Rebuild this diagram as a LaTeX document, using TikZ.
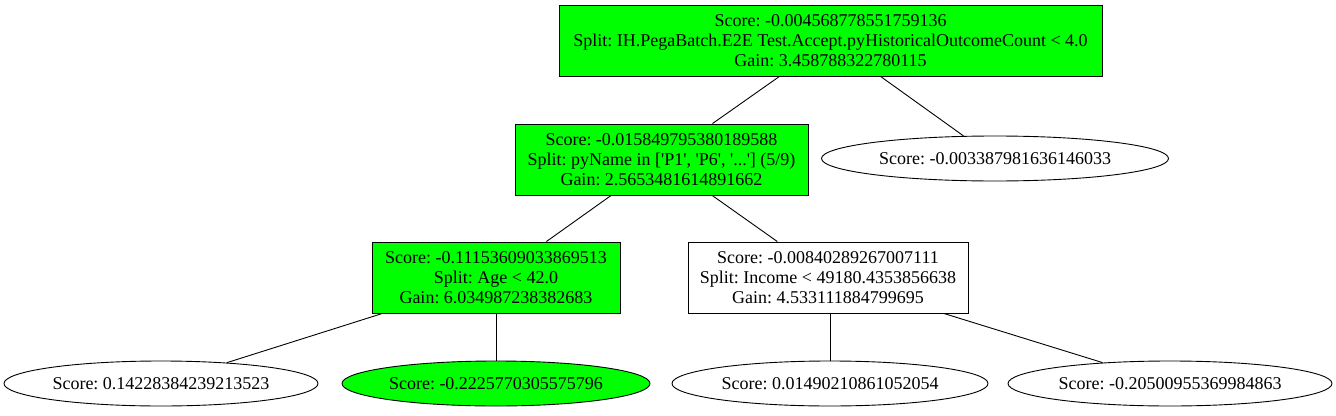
\documentclass[tikz,border=0pt]{standalone}
\usepackage{fontspec}
\setmainfont{Liberation Serif}
\usetikzlibrary{shapes.geometric, positioning}
\definecolor{hit}{HTML}{00FF00}
\tikzset{
  split/.style={rectangle, draw, align=center, inner sep=2pt,
                minimum height=71pt, font=\fontsize{18}{20}\selectfont},
  hot/.style={fill=hit},
  leaf/.style={ellipse, draw, inner sep=0pt, minimum height=45pt,
               font=\fontsize{18}{20}\selectfont},
}
\begin{document}
\frenchspacing
\begin{tikzpicture}[x=1pt, y=-1pt, line width=0.9pt]
  \useasboundingbox (0,0) rectangle (1336,415);
  % split nodes
  \node[split, hot, minimum width=543pt] (root) at (830.5,40.5)
    {Score: -0.004568778551759136\\Split: IH.PegaBatch.E2E Test.Accept.pyHistoricalOutcomeCount < 4.0\\Gain: 3.458788322780115};
  \node[split, hot, minimum width=293pt] (name) at (661.5,159.5)
    {Score: -0.015849795380189588\\Split: pyName in [\textquotesingle P1\textquotesingle, \textquotesingle P6\textquotesingle, \textquotesingle...\textquotesingle] (5/9)\\Gain: 2.5653481614891662};
  \node[split, hot, minimum width=248pt] (age) at (496,277.5)
    {Score: -0.11153609033869513\\Split: Age < 42.0\\Gain: 6.034987238382683};
  \node[split, minimum width=280pt] (income) at (828,277.5)
    {Score: -0.00840289267007111\\Split: Income < 49180.4353856638\\Gain: 4.533111884799695};
  % leaves
  \node[leaf, minimum width=347pt] (l1) at (995,158.5) {Score: -0.003387981636146033};
  \node[leaf, minimum width=314pt] (l2) at (161,383.5) {Score: 0.14228384239213523};
  \node[leaf, hot, minimum width=308pt] (l3) at (496,383.5) {Score: -0.2225770305575796};
  \node[leaf, minimum width=316pt] (l4) at (830,383.5) {Score: 0.01490210861052054};
  \node[leaf, minimum width=324pt] (l5) at (1170,383.5) {Score: -0.20500955369984863};
  % edges
  \draw (root) -- (name);
  \draw (root) -- (l1);
  \draw (name) -- (age);
  \draw (name) -- (income);
  \draw (age) -- (l2);
  \draw (age) -- (l3);
  \draw (income.south -| l4) -- (l4);
  \draw (income) -- (l5);
\end{tikzpicture}
\end{document}
